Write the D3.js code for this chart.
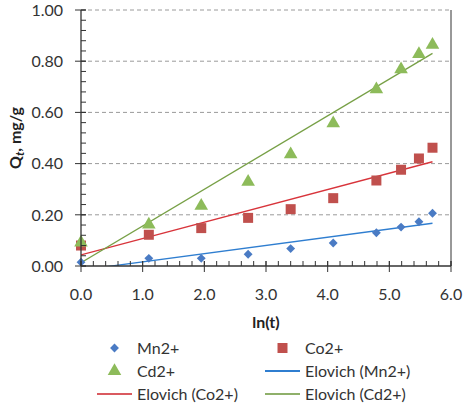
<!DOCTYPE html>
<html>
<head>
<meta charset="utf-8">
<script src="https://cdn.jsdelivr.net/npm/d3@7"></script>
<style>
  html, body { margin: 0; padding: 0; background: #fff; }
  svg { display: block; font-family: Lato, "Open Sans", sans-serif; }
</style>
</head>
<body>
<svg id="chart" width="466" height="407"></svg>
<script>
// ln(t) for the sampling times
const lnT = [0, 1.10, 1.95, 2.71, 3.40, 4.09, 4.79, 5.19, 5.48, 5.70];

// Adsorbed amount Qt (mg/g) per ion
const qMn = [0.015, 0.030, 0.030, 0.046, 0.068, 0.090, 0.130, 0.152, 0.173, 0.206];
const qCo = [0.080, 0.122, 0.148, 0.188, 0.222, 0.265, 0.334, 0.376, 0.420, 0.462];
const qCd = [0.095, 0.166, 0.239, 0.333, 0.440, 0.561, 0.694, 0.772, 0.832, 0.868];

// Elovich fits: Qt = a + b * ln(t), drawn over the data range
const fitRange = [0, 5.70];
const fitMn = { a: -0.016, b: 0.0321 };
const fitCo = { a: 0.043, b: 0.0639 };
const fitCd = { a: 0.013, b: 0.1434 };

const xTicks = [0, 1, 2, 3, 4, 5, 6];
const yTicks = [0, 0.2, 0.4, 0.6, 0.8, 1.0];

const svg = d3.select("#chart");
const margin = { left: 81, right: 14, top: 10, bottom: 141 };

const x = d3.scaleLinear().domain([0, 6]).range([margin.left, 451]);
const y = d3.scaleLinear().domain([0, 1]).range([266, margin.top]);

const colors = {
  mn: "#4A7BC4", co: "#C0504D", cd: "#8DBB5A",
  mnLine: "#2F7ED0", coLine: "#D8343B", cdLine: "#77A046",
  mnLeg: "#2F7ED0", coLeg: "#DA5A60", cdLeg: "#8FB06A"
};

// dashed horizontal gridlines
svg.append("g")
  .selectAll("line")
  .data(yTicks.filter(d => d > 0))
  .join("line")
  .attr("x1", x(0)).attr("x2", x(6))
  .attr("y1", d => y(d)).attr("y2", d => y(d))
  .attr("stroke", "#9a9a9a")
  .attr("stroke-width", 1)
  .attr("stroke-dasharray", "4,3");

// right frame edge
svg.append("line")
  .attr("x1", x(6)).attr("x2", x(6))
  .attr("y1", y(1)).attr("y2", y(0))
  .attr("stroke", "#333").attr("stroke-width", 1);

// clip region for the fitted lines
svg.append("clipPath").attr("id", "plotClip")
  .append("rect")
  .attr("x", x(0)).attr("y", y(1))
  .attr("width", x(6) - x(0)).attr("height", y(0) - y(1));

const line = d3.line().x(d => x(d[0])).y(d => y(d[1]));
function fitPoints(f) { return fitRange.map(v => [v, f.a + f.b * v]); }

const fits = [
  { f: fitMn, c: colors.mnLine },
  { f: fitCo, c: colors.coLine },
  { f: fitCd, c: colors.cdLine }
];
svg.append("g").attr("clip-path", "url(#plotClip)")
  .selectAll("path")
  .data(fits)
  .join("path")
  .attr("d", d => line(fitPoints(d.f)))
  .attr("fill", "none")
  .attr("stroke", d => d.c)
  .attr("stroke-width", 1.3);

// markers
const diamond = d3.symbol().type(d3.symbolDiamond2).size(50);
const square = d3.symbol().type(d3.symbolSquare).size(100);
const triangle = d3.symbol().type(d3.symbolTriangle).size(80);

function drawMarkers(vals, sym, color, dy) {
  svg.append("g")
    .selectAll("path")
    .data(vals.map((v, i) => [lnT[i], v]))
    .join("path")
    .attr("transform", d => `translate(${x(d[0])},${y(d[1]) + (dy || 0)})`)
    .attr("d", sym)
    .attr("fill", color);
}
drawMarkers(qCo, square, colors.co);
drawMarkers(qCd, triangle, colors.cd, 1);
drawMarkers(qMn, diamond, colors.mn);

// axes
const tickColor = "#333";
const yAxis = svg.append("g");
yAxis.append("line")
  .attr("x1", x(0)).attr("x2", x(0)).attr("y1", y(1)).attr("y2", y(0))
  .attr("stroke", tickColor).attr("stroke-width", 1.3);
const yMinor = d3.range(0, 1.0001, 0.04);
yAxis.selectAll("line.minor").data(yMinor).join("line").attr("class", "minor")
  .attr("x1", x(0)).attr("x2", x(0) + 5)
  .attr("y1", d => y(d)).attr("y2", d => y(d))
  .attr("stroke", tickColor).attr("stroke-width", 1);
yAxis.selectAll("line.major").data(yTicks).join("line").attr("class", "major")
  .attr("x1", x(0) - 6).attr("x2", x(0) + 5)
  .attr("y1", d => y(d)).attr("y2", d => y(d))
  .attr("stroke", tickColor).attr("stroke-width", 1);
yAxis.selectAll("text").data(yTicks).join("text")
  .attr("x", 63).attr("y", d => y(d))
  .attr("dy", "0.36em")
  .attr("text-anchor", "end")
  .attr("font-size", 16)
  .attr("fill", "#333")
  .text(d => d3.format(".2f")(d));

const xAxis = svg.append("g");
xAxis.append("line")
  .attr("x1", x(0)).attr("x2", x(6)).attr("y1", y(0)).attr("y2", y(0))
  .attr("stroke", tickColor).attr("stroke-width", 1.3);
const xMinor = d3.range(0, 6.0001, 0.2);
xAxis.selectAll("line.minor").data(xMinor).join("line").attr("class", "minor")
  .attr("x1", d => x(d)).attr("x2", d => x(d))
  .attr("y1", y(0) - 5).attr("y2", y(0))
  .attr("stroke", tickColor).attr("stroke-width", 1);
xAxis.selectAll("line.major").data(xTicks).join("line").attr("class", "major")
  .attr("x1", d => x(d)).attr("x2", d => x(d))
  .attr("y1", y(0) - 5).attr("y2", y(0) + 6)
  .attr("stroke", tickColor).attr("stroke-width", 1);
xAxis.selectAll("text").data(xTicks).join("text")
  .attr("x", d => x(d)).attr("y", 300)
  .attr("text-anchor", "middle")
  .attr("font-size", 16)
  .attr("fill", "#333")
  .text(d => d3.format(".1f")(d));

// axis titles
svg.append("text")
  .attr("x", (x(0) + x(6)) / 2).attr("y", 328)
  .attr("text-anchor", "middle")
  .attr("font-size", 16).attr("font-weight", "bold").attr("fill", "#222")
  .text("ln(t)");

const yTitle = svg.append("text")
  .attr("transform", `translate(21,${(y(0) + y(1)) / 2}) rotate(-90)`)
  .attr("text-anchor", "middle")
  .attr("font-size", 16).attr("font-weight", "bold").attr("fill", "#222");
yTitle.append("tspan").text("Q");
yTitle.append("tspan").attr("font-size", 12).attr("font-style", "italic").attr("dy", 3).text("t");
yTitle.append("tspan").attr("dy", -3).text(", mg/g");

// legend
const legendItems = [
  { label: "Mn2+", kind: "marker", sym: diamond, color: colors.mn, col: 0, row: 0 },
  { label: "Co2+", kind: "marker", sym: square, color: colors.co, col: 1, row: 0 },
  { label: "Cd2+", kind: "marker", sym: triangle, color: colors.cd, col: 0, row: 1 },
  { label: "Elovich (Mn2+)", kind: "line", color: colors.mnLeg, col: 1, row: 1 },
  { label: "Elovich (Co2+)", kind: "line", color: colors.coLeg, col: 0, row: 2 },
  { label: "Elovich (Cd2+)", kind: "line", color: colors.cdLeg, col: 1, row: 2 }
];
const colX = [97, 265];
const rowY = [348, 371, 394];
const leg = svg.append("g").selectAll("g").data(legendItems).join("g")
  .attr("transform", d => `translate(${colX[d.col]},${rowY[d.row]})`);
leg.filter(d => d.kind === "line").append("line")
  .attr("x1", 0).attr("x2", 35).attr("y1", 0).attr("y2", 0)
  .attr("stroke", d => d.color).attr("stroke-width", 2);
leg.filter(d => d.kind === "marker").append("path")
  .attr("transform", "translate(17.5,0)")
  .attr("d", d => d.sym())
  .attr("fill", d => d.color);
leg.append("text")
  .attr("x", 40).attr("dy", "0.36em")
  .attr("font-size", 16).attr("fill", "#333")
  .text(d => d.label);
</script>
</body>
</html>
